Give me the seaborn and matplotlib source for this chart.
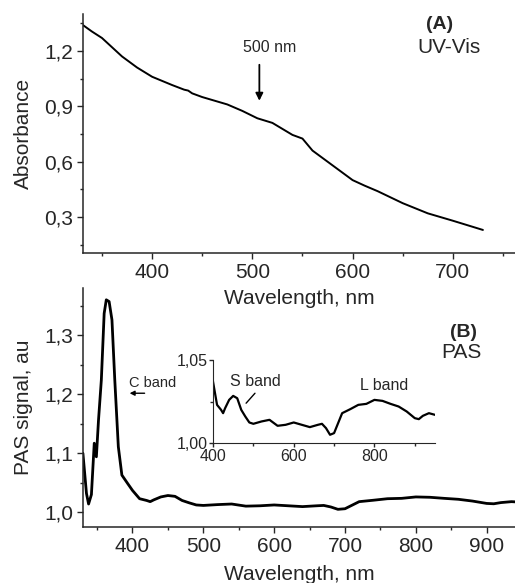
import numpy as np
import seaborn as sns
import matplotlib.pyplot as plt
from matplotlib.ticker import MultipleLocator, FuncFormatter

# UV-Vis absorbance (panel A)
uv_nm = [331, 340, 350, 360, 370, 385, 400, 420, 432, 436, 440, 450, 475, 490,
         505, 520, 540, 545, 550, 560, 580, 600, 612, 625, 650, 675, 700, 730]
uv_abs = [1.34, 1.305, 1.27, 1.22, 1.17, 1.11, 1.06, 1.015, 0.99, 0.985, 0.97, 0.95,
          0.91, 0.875, 0.835, 0.81, 0.745, 0.735, 0.725, 0.66, 0.58, 0.50, 0.47,
          0.44, 0.375, 0.32, 0.28, 0.23]

# PAS signal (panel B)
pas_nm = [330, 335, 338, 342, 346, 349, 352, 356, 360, 363, 367, 371, 375, 380, 385,
          393, 400, 405, 410, 420, 425, 430, 440, 450, 460, 470, 480, 490, 500, 520,
          540, 560, 580, 600, 620, 640, 660, 670, 680, 690, 700, 710, 720, 740, 760,
          780, 800, 820, 840, 860, 880, 900, 910, 920, 935, 950]
pas_sig = [1.10, 1.032, 1.014, 1.03, 1.117, 1.094, 1.156, 1.224, 1.337, 1.36, 1.357,
           1.326, 1.224, 1.111, 1.063, 1.049, 1.037, 1.030, 1.023, 1.020, 1.018, 1.021,
           1.026, 1.0284, 1.027, 1.020, 1.016, 1.0124, 1.0116, 1.013, 1.014, 1.0104,
           1.011, 1.0124, 1.011, 1.0096, 1.011, 1.0116, 1.009, 1.005, 1.006, 1.012,
           1.018, 1.0204, 1.023, 1.0236, 1.026, 1.0254, 1.0236, 1.022, 1.019, 1.015,
           1.0144, 1.0164, 1.018, 1.017]

sns.set_style("ticks")
plt.rcParams['font.family'] = ['Liberation Sans', 'DejaVu Sans']

comma = FuncFormatter(lambda v, p: f"{v:.1f}".replace('.', ','))
comma2 = FuncFormatter(lambda v, p: f"{v:.2f}".replace('.', ','))

fig = plt.figure(figsize=(5.15, 5.83), dpi=100)
ax1 = fig.add_axes([0.161, 0.566, 0.839, 0.410])
ax2 = fig.add_axes([0.161, 0.096, 0.839, 0.410])
ax3 = fig.add_axes([0.4136, 0.240, 0.431, 0.1425])
ax1.set_zorder(3)
ax2.patch.set_alpha(0)

for ax in (ax1, ax2, ax3):
    sns.despine(ax=ax)
    ax.tick_params(which='major', direction='out', length=4, width=1, labelsize=15, pad=3)
    ax.tick_params(which='minor', direction='out', length=2.5, width=1)
    for s in ('left', 'bottom'):
        ax.spines[s].set_linewidth(1.1)

# Panel A
sns.lineplot(x=uv_nm, y=uv_abs, ax=ax1, color='black', linewidth=1.4)
ax1.set_xlim(331, 762)
ax1.set_ylim(0.105, 1.4)
ax1.xaxis.set_major_locator(MultipleLocator(100))
ax1.xaxis.set_minor_locator(MultipleLocator(50))
ax1.yaxis.set_major_locator(MultipleLocator(0.3))
ax1.yaxis.set_minor_locator(MultipleLocator(0.15))
ax1.yaxis.set_major_formatter(comma)
ax1.set_xlabel('Wavelength, nm', fontsize=15, labelpad=5)
ax1.set_ylabel('Absorbance', fontsize=15, labelpad=8)
ax1.annotate('', xy=(507, 0.915), xytext=(507, 1.14),
             arrowprops=dict(arrowstyle='-|>', color='black', lw=1.3, mutation_scale=11))
ax1.text(517, 1.22, '500 nm', fontsize=11.5, ha='center', va='center')
ax1.text(687, 1.345, '(A)', fontsize=14, fontweight='bold', ha='center', va='center')
ax1.text(696, 1.22, 'UV-Vis', fontsize=15, ha='center', va='center')

# Panel B
sns.lineplot(x=pas_nm, y=pas_sig, ax=ax2, color='black', linewidth=2)
ax2.set_xlim(330, 940)
ax2.set_ylim(0.975, 1.38)
ax2.xaxis.set_major_locator(MultipleLocator(100))
ax2.xaxis.set_minor_locator(MultipleLocator(50))
ax2.yaxis.set_major_locator(MultipleLocator(0.1))
ax2.yaxis.set_minor_locator(MultipleLocator(0.05))
ax2.yaxis.set_major_formatter(comma)
ax2.set_xlabel('Wavelength, nm', fontsize=15, labelpad=7)
ax2.set_ylabel('PAS signal, au', fontsize=15, labelpad=8)
ax2.text(428, 1.219, 'C band', fontsize=10.5, ha='center', va='center')
ax2.annotate('', xy=(392, 1.2017), xytext=(421, 1.2017),
             arrowprops=dict(arrowstyle='-|>', color='black', lw=1.0, mutation_scale=7))
ax2.text(868, 1.305, '(B)', fontsize=14, fontweight='bold', ha='center', va='center')
ax2.text(865, 1.271, 'PAS', fontsize=15, ha='center', va='center')

# Inset
sns.lineplot(x=pas_nm, y=pas_sig, ax=ax3, color='black', linewidth=1.6)
ax3.set_xlim(400, 950)
ax3.set_ylim(1.0, 1.05)
ax3.patch.set_alpha(0)
ax3.xaxis.set_major_locator(MultipleLocator(200))
ax3.xaxis.set_minor_locator(MultipleLocator(100))
ax3.set_yticks([1.0, 1.05])
ax3.yaxis.set_minor_locator(MultipleLocator(0.025))
ax3.yaxis.set_major_formatter(comma2)
ax3.tick_params(which='major', labelsize=11.5, length=3, pad=1)
ax3.tick_params(which='minor', length=2)
for s in ('left', 'bottom'):
    ax3.spines[s].set_linewidth(0.8)
ax3.text(505, 1.037, 'S band', fontsize=11.5, ha='center', va='center')
ax3.plot([504, 482], [1.030, 1.024], color='black', lw=1)
ax3.text(825, 1.0344, 'L band', fontsize=11.5, ha='center', va='center')

fig.savefig('out.png', dpi=100)
